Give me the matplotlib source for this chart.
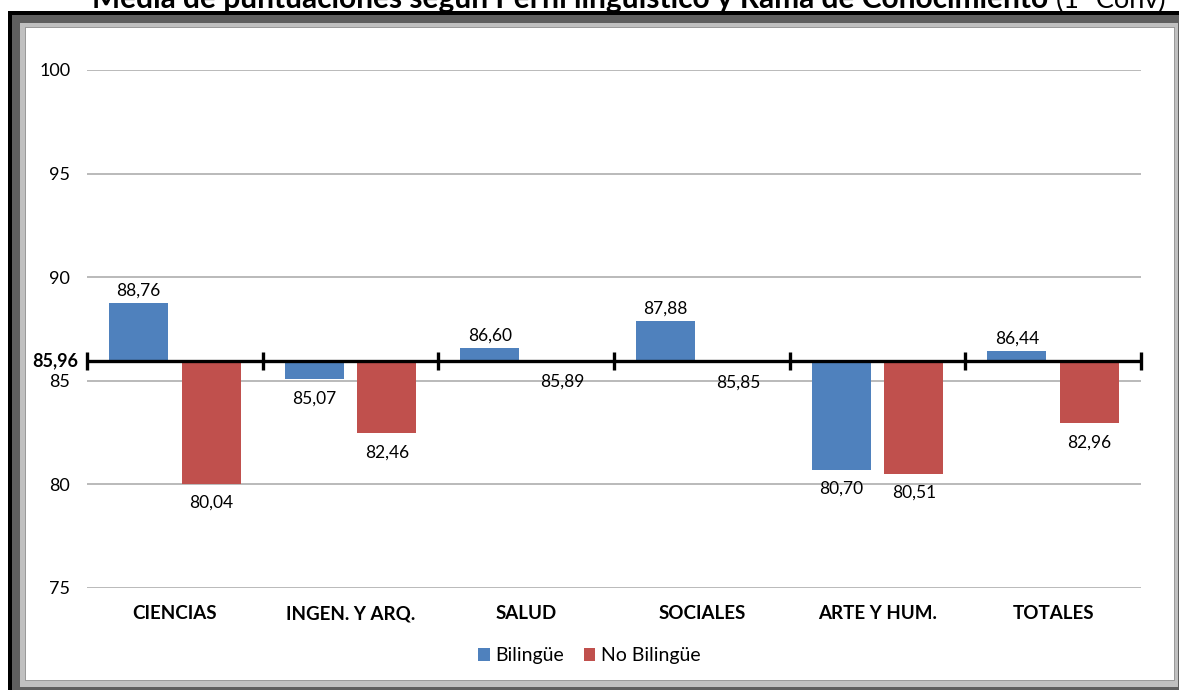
import matplotlib
matplotlib.use("Agg")
import matplotlib.pyplot as plt
from matplotlib.patches import Rectangle, Patch
import numpy as np

plt.rcParams['font.family'] = ['Lato', 'DejaVu Sans']

categories = ["CIENCIAS", "INGEN. Y ARQ.", "SALUD", "SOCIALES", "ARTE Y HUM.", "TOTALES"]
bilingue = [88.76, 85.07, 86.60, 87.88, 80.70, 86.44]
no_bilingue = [80.04, 82.46, 85.89, 85.85, 80.51, 82.96]
baseline = 85.96
series_names = ["Bilingüe", "No Bilingüe"]
yticks = [75, 80, 85, 90, 95, 100]
title_bold = "Media de puntuaciones según Perfil lingüístico y Rama de Conocimiento"
title_normal = "(1ª Conv)"

W, H = 1179, 690
fig = plt.figure(figsize=(W / 100, H / 100), dpi=100)
fig.patch.set_facecolor("white")

def px_rect(x0, y0, x1, y1, color, z):
    # pixel coords from top-left
    r = Rectangle((x0 / W, 1 - y1 / H), (x1 - x0) / W, (y1 - y0) / H,
                  transform=fig.transFigure, facecolor=color, edgecolor="none", zorder=z)
    fig.add_artist(r)

# frame
px_rect(8, 11, W + 5, H + 5, "black", 1)
px_rect(12, 15, W + 5, H + 5, "#5f5f5f", 1.1)
px_rect(20, 23, W - 1, H - 3, "#c0c0c0", 1.2)
px_rect(25, 27, W - 4, H - 9, "#9a9a9a", 1.3)
px_rect(26, 28, W - 5, H - 10, "white", 1.4)

# title (cut off at top, as in the reference)
fig.text(1048 / W, 1 - 8 / H, title_bold, ha="right", va="baseline",
         fontsize=21.5, fontweight="bold", color="black", zorder=0.5)
fig.text(1056 / W, 1 - 8 / H, title_normal, ha="left", va="baseline",
         fontsize=19.5, color="black", zorder=0.5)

ax = fig.add_axes([87 / W, 102 / H, 1054 / W, 518 / H], zorder=5)
ax.set_facecolor("none")
x = np.arange(len(categories))
bw = 0.335
off = 0.207
blue = "#4F81BD"
red = "#C0504D"

for yv in yticks:
    ax.axhline(yv, color="#b4b4b4", lw=1.3, zorder=1)

b_vals = np.array(bilingue)
n_vals = np.array(no_bilingue)
ax.bar(x - off, b_vals - baseline, bottom=baseline, width=bw, color=blue, zorder=2)
ax.bar(x + off, n_vals - baseline, bottom=baseline, width=bw, color=red, zorder=2)

# axis line at baseline with cross ticks
ax.axhline(baseline, color="black", lw=2.4, zorder=4)
bounds = np.arange(len(categories) + 1) - 0.5
ax.plot(bounds, [baseline] * len(bounds), linestyle="none", marker="|",
        markersize=13, markeredgewidth=2.4, color="black", zorder=4, clip_on=False)

def lab(v):
    return f"{v:.2f}".replace(".", ",")

for xs, vals in ((x - off, b_vals), (x + off, n_vals)):
    for xi, v in zip(xs, vals):
        if v >= baseline:
            ax.annotate(lab(v), (xi, v), xytext=(0, 3), textcoords="offset points",
                        ha="center", va="bottom", fontsize=12.5, zorder=6)
        else:
            ax.annotate(lab(v), (xi, v), xytext=(0, -8), textcoords="offset points",
                        ha="center", va="top", fontsize=12.5, zorder=6)

ax.set_xlim(-0.5, len(categories) - 0.5)
ax.set_ylim(75, 100)
ax.set_yticks(yticks)
ax.set_yticklabels([str(t) for t in yticks], fontsize=13)
ax.set_xticks(x)
ax.set_xticklabels(categories, fontsize=13.5, fontweight="bold")
ax.tick_params(axis="y", length=0, pad=12)
ax.tick_params(axis="x", length=0, pad=12.5)
for s in ax.spines.values():
    s.set_visible(False)

ax.annotate("85,96", (-0.5, baseline), xytext=(-6, 0), textcoords="offset points",
            ha="right", va="center", fontsize=13, fontweight="bold", zorder=6,
            annotation_clip=False)

handles = [Patch(facecolor=blue), Patch(facecolor=red)]
leg = fig.legend(handles, series_names, loc="center", bbox_to_anchor=(0.5, 1 - 656 / H),
                 ncol=2, frameon=False, fontsize=14, handlelength=0.6, handleheight=0.6,
                 handletextpad=0.3, columnspacing=1.0)
leg.set_zorder(6)

fig.savefig("out.png", dpi=100)
